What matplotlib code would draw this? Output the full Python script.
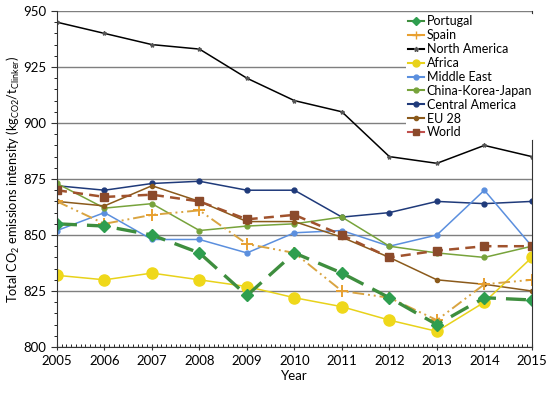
import matplotlib
matplotlib.use("Agg")
import matplotlib.pyplot as plt
from matplotlib.lines import Line2D
from matplotlib.ticker import MultipleLocator

plt.rcParams['font.family'] = ['Lato', 'DejaVu Sans']
plt.rcParams['mathtext.default'] = 'regular'

years = list(range(2005, 2016))

portugal = [855, 854, 850, 842, 823, 842, 833, 822, 810, 822, 821]
spain = [865, 855, 859, 861, 846, 842, 825, 822, 812, 828, 830]
north_america = [945, 940, 935, 933, 920, 910, 905, 885, 882, 890, 885]
africa = [832, 830, 833, 830, 827, 822, 818, 812, 807, 820, 840]
middle_east = [852, 860, 848, 848, 842, 851, 852, 845, 850, 870, 845]
ckj = [873, 862, 864, 852, 854, 855, 858, 845, 842, 840, 845]
central_america = [872, 870, 873, 874, 870, 870, 858, 860, 865, 864, 865]
eu28 = [865, 863, 872, 865, 856, 856, 849, 840, 830, 828, 825]
world = [870, 867, 868, 865, 857, 859, 850, 840, 843, 845, 845]

fig = plt.figure(figsize=(5.5, 3.93), dpi=100)
ax = fig.add_axes([0.1036, 0.117, 0.8634, 0.855])

# thin lines first, thick dashed ones on top
ax.plot(years, north_america, '-', color='black', lw=1.1, marker='*', ms=3,
        mfc='#555555', mec='#555555')
ax.plot(years, central_america, '-', color='#1F3A7A', lw=1.1, marker='o', ms=3.5)
ax.plot(years, middle_east, '-', color='#5B8FDE', lw=1.1, marker='o', ms=3.5)
ax.plot(years, ckj, '-', color='#77A33B', lw=1.1, marker='o', ms=3.5)
ax.plot(years, eu28, '-', color='#8B5A1B', lw=1.1, marker='o', ms=3)
ax.plot(years, africa, '-', color='#E8D21A', lw=1.1, marker='o', ms=8,
        mfc='#EFD81A', mec='#EFD81A')
ax.plot(years, spain, color='#D9A441', lw=1.4, dashes=(6, 2, 1, 2, 1, 2),
        marker='+', ms=9, mew=1.4, mec='#E8A030')
ax.plot(years, world, color='#A0522D', lw=1.8, dashes=(4, 2.5),
        marker='s', ms=6, mfc='#8B4A2B', mec='#8B4A2B')
ax.plot(years, portugal, color='#3E8E3E', lw=2.4, dashes=(6, 3),
        marker='D', ms=6, mfc='#2E9E4F', mec='#2E9E4F')

ax.set_xlim(2005, 2015)
ax.set_ylim(800, 950)
ax.set_yticks([800, 825, 850, 875, 900, 925, 950])
ax.set_xticks(years)
ax.xaxis.set_minor_locator(MultipleLocator(0.1))
ax.yaxis.set_minor_locator(MultipleLocator(5))
ax.grid(axis='y', which='major', color='#7F7F7F', lw=1)
ax.set_axisbelow(True)
ax.tick_params(axis='both', labelsize=9.5, color='#333333')
ax.tick_params(axis='x', which='major', direction='inout', length=5)
ax.tick_params(axis='x', which='minor', direction='in', length=2.5)
ax.tick_params(axis='y', which='major', direction='out', length=4)
ax.tick_params(axis='y', which='minor', direction='out', length=2.5)
ax.spines['top'].set_visible(False)
ax.spines['right'].set_color('#333333')
ax.spines['left'].set_color('#333333')
ax.spines['bottom'].set_color('#333333')

ax.set_xlabel('Year', fontsize=9.5, labelpad=2)
ax.set_ylabel('Total CO$_2$ emissions intensity (kg$_{CO2}$/t$_{Clinker}$)',
              fontsize=9.2, labelpad=1)

handles = [
    Line2D([], [], color='#3E8E3E', marker='D', ms=4, mfc='#2E9E4F', mec='#2E9E4F'),
    Line2D([], [], color='#E8A030', marker='+', ms=6),
    Line2D([], [], color='black', marker='*', ms=3.5, mfc='#555555', mec='#555555'),
    Line2D([], [], color='#E8D21A', marker='o', ms=5),
    Line2D([], [], color='#5B8FDE', marker='o', ms=3.5),
    Line2D([], [], color='#77A33B', marker='o', ms=3.5),
    Line2D([], [], color='#1F3A7A', marker='o', ms=3.5),
    Line2D([], [], color='#8B5A1B', marker='o', ms=3),
    Line2D([], [], color='#C0504D', marker='s', ms=5, mfc='#8B4A2B', mec='#8B4A2B'),
]
labels = ['Portugal', 'Spain', 'North America', 'Africa', 'Middle East',
          'China-Korea-Japan', 'Central America', 'EU 28', 'World']
leg = ax.legend(handles, labels, loc='upper left', bbox_to_anchor=(0.73, 1.0),
                fontsize=9, frameon=True, framealpha=1, edgecolor='none',
                handlelength=1.3, handletextpad=0.2, labelspacing=0.15,
                borderpad=0.15, borderaxespad=0.2)
leg.get_frame().set_linewidth(0)

fig.savefig('out.png', dpi=100)
